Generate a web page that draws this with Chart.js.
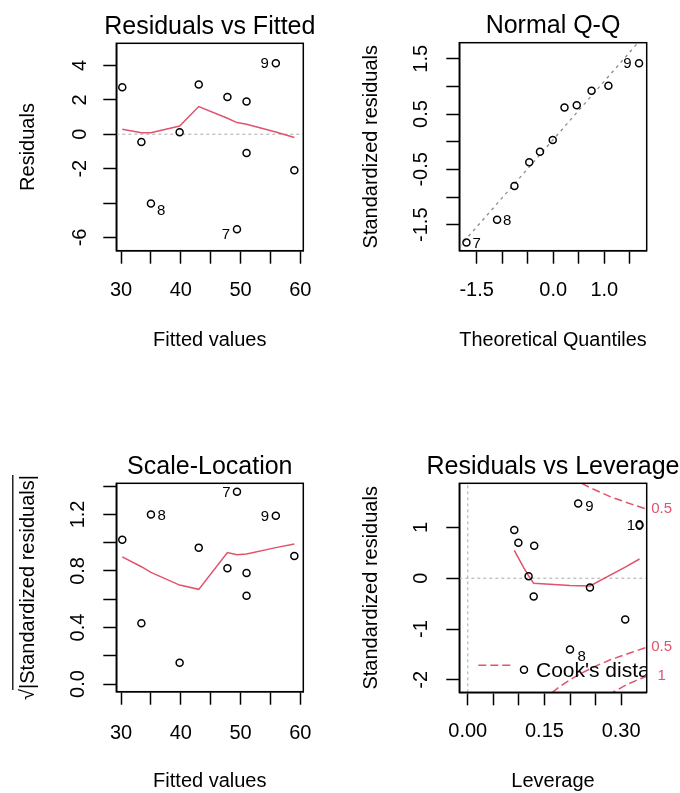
<!DOCTYPE html>
<html>
<head>
<meta charset="utf-8">
<script src="https://cdn.jsdelivr.net/npm/chart.js@4.4.1/dist/chart.umd.min.js"></script>
<style>
  html, body { margin: 0; padding: 0; background: #fff; }
  #wrap { position: relative; width: 680px; height: 793px; background: #fff; }
  #wrap canvas { position: absolute; }
</style>
</head>
<body>
<div id="wrap">
  <canvas id="c1" width="340" height="396" style="left:0;top:0"></canvas>
  <canvas id="c2" width="340" height="396" style="left:340px;top:0"></canvas>
  <canvas id="c3" width="340" height="397" style="left:0;top:396px"></canvas>
  <canvas id="c4" width="340" height="397" style="left:340px;top:396px"></canvas>
</div>
<script>
// ---- Residuals vs Fitted ----
const fitted      = [30.2, 33.4, 35.0, 39.8, 43.0, 47.8, 49.4, 51.0, 51.0, 55.9, 59.0];
const residuals   = [2.73, -0.45, -4.03, 0.12, 2.90, 2.17, -5.52, 1.90, -1.09, 4.13, -2.09];
const smoothX     = [30.2, 33.4, 35.0, 39.8, 43.0, 47.8, 49.4, 51.0, 55.9, 59.0];
const residSmooth = [0.29, 0.09, 0.09, 0.48, 1.61, 0.93, 0.68, 0.58, 0.13, -0.19];
const residIds    = ['', '', '8', '', '', '', '7', '', '', '9', ''];
const fitTicks        = [30, 35, 40, 45, 50, 55, 60];
const fitTickLabels   = ['30', '', '40', '', '50', '', '60'];
const residTicks      = [-6, -4, -2, 0, 2, 4];
const residTickLabels = ['-6', '', '-2', '0', '2', '4'];

// ---- Normal Q-Q ----
const theoQuant = [-1.70, -1.10, -0.76, -0.47, -0.26, -0.01, 0.22, 0.46, 0.75, 1.08, 1.68];
const qqStdRes  = [-1.82, -1.41, -0.80, -0.37, -0.18, 0.03, 0.62, 0.66, 0.92, 1.01, 1.42];
const qqIds     = ['7', '8', '', '', '', '', '', '', '', '', '9'];
const qqLineX   = [-1.84, 1.66];
const qqLineY   = [-1.90, 1.79];
const qTicks       = [-1.5, -1.0, -0.5, 0.0, 0.5, 1.0, 1.5];
const qxTickLabels = ['-1.5', '', '', '0.0', '', '1.0', ''];
const qyTickLabels = ['-1.5', '', '-0.5', '', '0.5', '', '1.5'];

// ---- Scale-Location ----
const sqrtAbsRes = [1.02, 0.43, 1.20, 0.15, 0.965, 0.82, 1.36, 0.785, 0.625, 1.19, 0.905];
const slSmooth   = [0.90, 0.83, 0.79, 0.70, 0.67, 0.93, 0.915, 0.92, 0.965, 0.99];
const slIds      = ['', '', '8', '', '', '', '7', '', '', '9', ''];
const slTicks      = [0.0, 0.2, 0.4, 0.6, 0.8, 1.0, 1.2, 1.4];
const slTickLabels = ['0.0', '', '0.4', '', '0.8', '', '1.2', ''];

// ---- Residuals vs Leverage ----
const leverage   = [0.091, 0.099, 0.130, 0.119, 0.129, 0.110, 0.200, 0.216, 0.239, 0.308, 0.336];
const levStdRes  = [0.95, 0.70, 0.64, 0.04, -0.36, -1.80, -1.40, 1.47, -0.18, -0.81, 1.05];
const levIds     = ['', '', '', '', '', '', '8', '9', '', '', '10'];
const levSmoothX = [0.091, 0.099, 0.110, 0.119, 0.129, 0.200, 0.239, 0.308, 0.336];
const levSmoothY = [0.55, 0.40, 0.20, 0.05, -0.10, -0.14, -0.15, 0.22, 0.38];
const cookUpperX  = [0.223, 0.24, 0.26, 0.28, 0.30, 0.32, 0.35];
const cookUpper05 = [1.87, 1.78, 1.69, 1.60, 1.53, 1.46, 1.36];
const cookLowerX  = [0.165, 0.18, 0.20, 0.22, 0.25, 0.28, 0.30, 0.32, 0.35];
const cookLower05 = [-2.25, -2.13, -2.00, -1.88, -1.73, -1.60, -1.53, -1.46, -1.36];
const cookLower1X = [0.275, 0.29, 0.31, 0.33, 0.35];
const cookLower1  = [-2.30, -2.21, -2.10, -2.01, -1.93];
const levTicks        = [0.00, 0.05, 0.10, 0.15, 0.20, 0.25, 0.30];
const levTickLabels   = ['0.00', '', '', '0.15', '', '', '0.30'];
const levYTicks       = [-2, -1, 0, 1];
const levYTickLabels  = ['-2', '-1', '0', '1'];

const FONT = "'Liberation Sans', Arial, Helvetica, sans-serif";
const RED = '#DF536B';

const pts = (xs, ys) => xs.map((x, i) => ({x: x, y: ys[i]}));

function pointSet(xs, ys) {
  return {
    data: pts(xs, ys), pointStyle: 'circle', pointRadius: 3.5, pointHoverRadius: 3.5,
    pointBorderWidth: 1.5, pointBorderColor: '#000', pointBackgroundColor: 'rgba(0,0,0,0)'
  };
}
function lineSet(xs, ys, color, dash, width) {
  return {
    data: pts(xs, ys), showLine: true, pointRadius: 0, pointHoverRadius: 0,
    borderColor: color, borderWidth: width || 1.5, borderDash: dash || [], fill: false, tension: 0
  };
}

// extra R-like decorations: box, main title, point ids, legend bits
function decor(cfg) {
  return {
    id: 'decor_' + cfg.id,
    afterDatasetsDraw(chart) {
      const ctx = chart.ctx, a = chart.chartArea;
      ctx.save();
      ctx.strokeStyle = '#000';
      ctx.lineWidth = 1.5;
      ctx.strokeRect(a.left, a.top, a.right - a.left, a.bottom - a.top);

      ctx.fillStyle = '#000';
      ctx.font = '25px ' + FONT;
      ctx.textAlign = 'center';
      ctx.textBaseline = 'alphabetic';
      ctx.fillText(cfg.main, (a.left + a.right) / 2, a.top - 9.7);

      ctx.font = '15px ' + FONT;
      ctx.textBaseline = 'middle';
      const meta = chart.getDatasetMeta(0);
      cfg.ids.forEach((t, i) => {
        if (!t) return;
        const s = cfg.idStyle[i] || [6, 1];
        const el = meta.data[i];
        ctx.textAlign = s[2] || (s[0] < 0 ? 'right' : 'left');
        ctx.fillText(t, el.x + s[0], el.y + s[1]);
      });

      if (cfg.sqrtBar) {
        const y = chart.scales.y;
        ctx.font = '20px ' + FONT;
        const w = ctx.measureText(cfg.yTitle).width;
        const sw = ctx.measureText('√').width;
        const cy = (a.top + a.bottom) / 2;
        const tx = y.left + cfg.yTitlePad + 12 - 15.5;
        ctx.lineWidth = 1.3;
        ctx.beginPath();
        ctx.moveTo(tx, cy + w / 2 - sw + 1);
        ctx.lineTo(tx, cy - w / 2);
        ctx.stroke();
      }

      if (cfg.cook) {
        ctx.save();
        ctx.beginPath();
        ctx.rect(a.left, a.top, a.right - a.left, a.bottom - a.top);
        ctx.clip();
        ctx.strokeStyle = RED;
        ctx.lineWidth = 1.5;
        ctx.setLineDash([8, 4]);
        ctx.beginPath();
        ctx.moveTo(a.left + 19, a.bottom - 27);
        ctx.lineTo(a.left + 55, a.bottom - 27);
        ctx.stroke();
        ctx.setLineDash([]);
        ctx.fillStyle = '#000';
        ctx.font = '21px ' + FONT;
        ctx.textAlign = 'left';
        ctx.textBaseline = 'alphabetic';
        ctx.fillText("Cook's distance", a.left + 76.7, a.bottom - 15.6);
        ctx.restore();

        ctx.fillStyle = RED;
        ctx.font = '15px ' + FONT;
        ctx.textAlign = 'center';
        ctx.textBaseline = 'middle';
        cfg.cook.forEach(([dsIndex, txt]) => {
          const m = chart.getDatasetMeta(dsIndex).data;
          ctx.fillText(txt, a.right + 15, m[m.length - 1].y);
        });
      }
      ctx.restore();
    }
  };
}

function panel(cfg) {
  const tickFont = {family: FONT, size: 20};
  new Chart(document.getElementById(cfg.id), {
    type: 'scatter',
    data: {datasets: cfg.datasets},
    options: {
      responsive: false,
      animation: false,
      events: [],
      layout: {padding: cfg.pad},
      plugins: {legend: {display: false}, tooltip: {enabled: false}},
      scales: {
        x: {
          type: 'linear', position: 'bottom', min: cfg.x.min, max: cfg.x.max,
          afterBuildTicks: s => { s.ticks = cfg.x.ticks.map(v => ({value: v})); },
          afterFit: s => { s.height = cfg.x.size; },
          grid: {drawOnChartArea: false, tickLength: 13, tickColor: '#000', tickWidth: 1.5, color: '#000'},
          border: {display: true, color: '#000', width: 1.5},
          ticks: {autoSkip: false, minRotation: 0, maxRotation: 0, padding: cfg.x.tickPad,
                  color: '#000', font: tickFont, callback: (v, i) => cfg.x.labels[i]},
          title: {display: true, text: cfg.x.title, color: '#000', font: tickFont, padding: {top: 0, bottom: 0}}
        },
        y: {
          type: 'linear', position: 'left', min: cfg.y.min, max: cfg.y.max,
          afterBuildTicks: s => { s.ticks = cfg.y.ticks.map(v => ({value: v})); },
          afterFit: s => { s.width = cfg.y.size; },
          grid: {drawOnChartArea: false, tickLength: 13, tickColor: '#000', tickWidth: 1.5, color: '#000'},
          border: {display: true, color: '#000', width: 1.5},
          ticks: {autoSkip: false, minRotation: 90, maxRotation: 90, crossAlign: 'center', padding: cfg.y.tickPad,
                  color: '#000', font: tickFont, callback: (v, i) => cfg.y.labels[i]},
          title: {display: true, text: cfg.y.title, color: '#000', font: tickFont, padding: {top: cfg.y.titlePad, bottom: 0}}
        }
      }
    },
    plugins: [decor(cfg)]
  });
}

panel({
  id: 'c1', main: 'Residuals vs Fitted',
  pad: {left: 0, top: 43.3, right: 36.7, bottom: 44},
  x: {min: 29.2, max: 60.5, ticks: fitTicks, labels: fitTickLabels, title: 'Fitted values', size: 101.3, tickPad: 14.3},
  y: {min: -6.77, max: 5.29, ticks: residTicks, labels: residTickLabels, title: 'Residuals', size: 116.3, tickPad: 14.4, titlePad: 16.3},
  ids: residIds, idStyle: {2: [6, 7], 6: [-7, 6], 9: [-7, 1]},
  datasets: [
    pointSet(fitted, residuals),
    lineSet(smoothX, residSmooth, RED),
    lineSet([29.2, 60.5], [0, 0], '#BEBEBE', [3, 3], 1.3)
  ]
});

panel({
  id: 'c2', main: 'Normal Q-Q',
  pad: {left: 0, top: 42.7, right: 33.3, bottom: 44},
  x: {min: -1.84, max: 1.83, ticks: qTicks, labels: qxTickLabels, title: 'Theoretical Quantiles', size: 101.3, tickPad: 14.3},
  y: {min: -1.97, max: 1.79, ticks: qTicks, labels: qyTickLabels, title: 'Standardized residuals', size: 119.3, tickPad: 7.4, titlePad: 19.7},
  ids: qqIds, idStyle: {0: [6, 1], 1: [6, 1.3], 10: [-7.5, 0.7]},
  datasets: [
    pointSet(theoQuant, qqStdRes),
    lineSet(qqLineX, qqLineY, '#8C8C8C', [3, 4], 1.3)
  ]
});

panel({
  id: 'c3', main: 'Scale-Location', sqrtBar: true, yTitle: '√|Standardized residuals|', yTitlePad: 16.3,
  pad: {left: 0, top: 87.3, right: 36.7, bottom: 0},
  x: {min: 29.2, max: 60.5, ticks: fitTicks, labels: fitTickLabels, title: 'Fitted values', size: 101.3, tickPad: 16.6},
  y: {min: -0.054, max: 1.42, ticks: slTicks, labels: slTickLabels, title: '√|Standardized residuals|', size: 116.3, tickPad: 11.1, titlePad: 16.3},
  ids: slIds, idStyle: {2: [6.5, 1.3], 6: [-6.5, 0.7], 9: [-6.8, 1]},
  datasets: [
    pointSet(fitted, sqrtAbsRes),
    lineSet(smoothX, slSmooth, RED)
  ]
});

panel({
  id: 'c4', main: 'Residuals vs Leverage', cook: [[3, '0.5'], [4, '0.5'], [5, '1']],
  pad: {left: 0, top: 87.3, right: 33.3, bottom: 0},
  x: {min: -0.0165, max: 0.350, ticks: levTicks, labels: levTickLabels, title: 'Leverage', size: 100.7, tickPad: 14.4},
  y: {min: -2.245, max: 1.87, ticks: levYTicks, labels: levYTickLabels, title: 'Standardized residuals', size: 119.3, tickPad: 15.7, titlePad: 19.7},
  ids: levIds, idStyle: {6: [7.5, 7.3], 7: [7.1, 3.7], 10: [4, 1, 'right']},
  datasets: [
    pointSet(leverage, levStdRes),
    lineSet(levSmoothX, levSmoothY, RED),
    lineSet([-0.0165, 0.350], [0, 0], '#BEBEBE', [3, 3], 1.3),
    lineSet(cookUpperX, cookUpper05, RED, [8, 4]),
    lineSet(cookLowerX, cookLower05, RED, [8, 4]),
    lineSet(cookLower1X, cookLower1, RED, [8, 4]),
    lineSet([0, 0], [-2.245, 1.87], '#BEBEBE', [3, 3], 1.3)
  ]
});
</script>
</body>
</html>
